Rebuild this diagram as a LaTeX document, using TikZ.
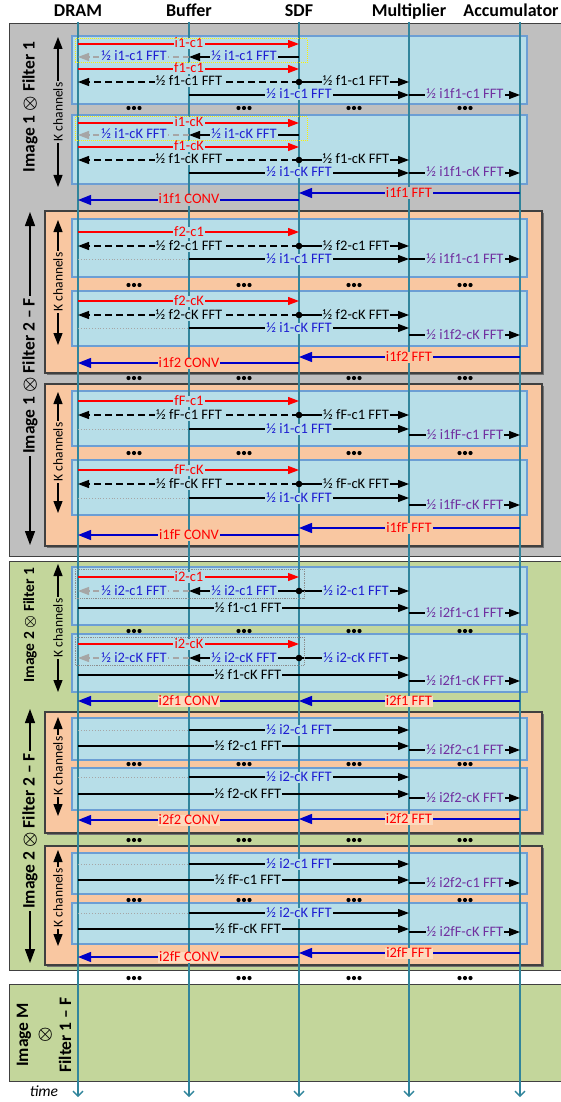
\documentclass[tikz,border=0pt]{standalone}
\usepackage{fontspec}
\setmainfont{Carlito}
\usetikzlibrary{arrows.meta}
\definecolor{grayfill}{RGB}{191,191,191}
\definecolor{greenfill}{RGB}{195,214,155}
\definecolor{orangefill}{RGB}{249,199,161}
\definecolor{peach}{RGB}{252,218,190}
\definecolor{chfill}{RGB}{183,222,232}
\definecolor{chdraw}{RGB}{108,158,212}
\definecolor{lifec}{RGB}{49,133,156}
\definecolor{fftblue}{RGB}{30,30,210}
\definecolor{arrblue}{RGB}{0,0,200}
\definecolor{purp}{RGB}{112,48,160}
\definecolor{garrow}{RGB}{166,166,166}
\definecolor{redc}{RGB}{255,0,0}
\definecolor{boxedge}{RGB}{64,64,64}
\newcounter{lbl}
\tikzset{
  tipA/.style={-{Triangle[length=11pt,width=8pt]}},
  rarr/.style={draw=redc, line width=1.2pt, tipA},
  barr/.style={draw=black, line width=1.2pt, tipA},
  garr/.style={draw=garrow, line width=1.2pt, dash pattern=on 6pt off 4pt, tipA},
  dsh/.style={draw=black, line width=1.2pt, dash pattern=on 7pt off 4pt, tipA},
  blarr/.style={draw=arrblue, line width=1.2pt, -{Triangle[length=13pt,width=10pt]}},
  gdot/.style={draw=black!35, line width=0.8pt, dotted},
  lab/.style={inner xsep=1.2pt, inner ysep=0pt, text height=9.5pt, text depth=1.5pt, font=\fontsize{14.5}{16}\selectfont},
  chbox/.style={fill=chfill, draw=chdraw, line width=1.2pt},
  outer/.style={draw=boxedge, line width=1pt},
  obox/.style={draw=boxedge, line width=1.2pt, fill=orangefill},
  oshadow/.style={fill=black!55, draw=none},
  lifeline/.style={draw=lifec, line width=1.3pt, -{Straight Barb[length=5pt,width=10pt]}},
  hdr/.style={font=\bfseries\fontsize{18}{20}\selectfont, anchor=base, inner sep=0pt},
  side/.style={rotate=90, font=\bfseries\fontsize{17.5}{20}\selectfont, inner sep=2pt},
  kch/.style={rotate=90, font=\fontsize{13.5}{15}\selectfont, inner sep=1.5pt},
  karr/.style={draw=black, line width=1.3pt, -{Triangle[length=12pt,width=9pt]}},
  bigarr/.style={draw=black, line width=1.3pt, -{Triangle[length=14pt,width=10pt]}},
  selbox/.style={draw=yellow, line width=1pt, densely dotted},
  selboxg/.style={draw=black!45, line width=0.8pt, densely dotted}
}
\newcommand\ox{\mbox{\boldmath$\otimes$}}
\newcommand\putlab[4][]{\stepcounter{lbl}\node[lab,#1] (L\arabic{lbl}) at (#2 |- 0,#3) {#4};}
\newcommand\rred[2]{\draw[rarr] (D |- 0,#1) -- (S |- 0,#1); \putlab[text=redc,fill=chfill]{B}{#1}{#2}}
\newcommand\rsplit[2]{\draw[barr] (S |- 0,#1) -- (B |- 0,#1); \draw[garr] (B |- 0,#1) -- (D |- 0,#1);
  \putlab[text=fftblue,fill=chfill]{DB}{#1}{#2}\putlab[text=fftblue,fill=chfill]{BS}{#1}{#2}}
\newcommand\rsplitb[2]{\rsplit{#1}{#2}\draw[barr] (S |- 0,#1) -- (M |- 0,#1); \fill (S |- 0,#1) circle (3.3pt);
  \putlab[text=fftblue,fill=chfill]{SM}{#1}{#2}}
\newcommand\rdash[3]{\draw[dsh] (S |- 0,#1) -- (D |- 0,#1); \draw[barr] (S |- 0,#1) -- (M |- 0,#1);
  \fill (S |- 0,#1) circle (3.3pt); \putlab[fill=chfill]{B}{#1}{#2}\putlab[fill=chfill]{SM}{#1}{#3}}
\newcommand\rbm[2]{\draw[barr] (B |- 0,#1) -- (M |- 0,#1); \putlab[text=fftblue,fill=chfill]{S}{#1}{#2}}
\newcommand\rma[2]{\draw[barr] (M |- 0,#1) -- (A |- 0,#1); \putlab[text=purp,fill=chfill]{MA}{#1}{#2}}
\newcommand\rdm[2]{\draw[barr] (D |- 0,#1) -- (M |- 0,#1); \putlab[fill=chfill]{BSb}{#1}{#2}}
\newcommand\rdot[1]{\draw[gdot] (D |- 0,#1) -- (B |- 0,#1);}
\newcommand\fftconv[5]{\draw[blarr] (A |- 0,#1) -- (S |- 0,#1); \draw[blarr] (S |- 0,#3) -- (D |- 0,#3);
  \putlab[text=redc,fill=#5]{M}{#1}{#2}\putlab[text=redc,fill=#5]{B}{#3}{#4}}
\newcommand\tridots[1]{\foreach \xx in {134,244,354,465}{\foreach \dd in {-5.5,0,5.5}{\fill (\xx+\dd,#1) circle (2.1pt);}}}
\newcommand\obx[4]{\fill[oshadow] (#1+2,#2+2) rectangle (#3+2,#4+2); \draw[obox] (#1,#2) rectangle (#3,#4);}
\begin{document}
\begin{tikzpicture}[x=1pt,y=-1pt]
\useasboundingbox (0,0) rectangle (560,1102);
% outer boxes
\draw[outer, fill=grayfill] (9,24) rectangle (575,556);
\draw[outer, fill=greenfill] (9,561) rectangle (575,970);
\draw[outer, fill=greenfill] (9,984) rectangle (575,1081);
% filter 2..F boxes
\obx{45}{211}{542}{373}
\obx{45}{384}{542}{546}
\obx{45}{712}{542}{833}
\obx{45}{846}{542}{965}
% channel boxes
\foreach \a/\b in {36/104,115/184,219/277,291/346,391/446,460/515,567/625,634/692,718/760,768/810,853/894,903/944}
  \draw[chbox] (72,\a) rectangle (527,\b);
% lifelines
\coordinate (D) at (78,22);
\coordinate (B) at (189,22);
\coordinate (S) at (299,22);
\coordinate (M) at (409,22);
\coordinate (A) at (520,22);
\coordinate (DB) at (134,22);
\coordinate (BS) at (244,22);
\coordinate (BSb) at (248,22);
\coordinate (SM) at (356,22);
\coordinate (MA) at (465,22);
\foreach \n in {D,B,S,M,A} \draw[lifeline] (\n) -- (\n |- 0,1097);
% headers
\node[hdr] (hD) at (78,17) {DRAM};
\node[hdr] (hB) at (189,17) {Buffer};
\node[hdr] (hS) at (299,17) {SDF};
\node[hdr] (hM) at (409,17) {Multiplier};
\node[hdr] (hA) at (511,17) {Accumulator};
% ===== Image 1, Filter 1
\rred{44}{i1-c1}
\rsplit{57}{½ i1-c1 FFT}
\rred{69}{f1-c1}
\rdash{82}{½ f1-c1 FFT}{½ f1-c1 FFT}
\rbm{95}{½ i1-c1 FFT}\rma{95}{½ i1f1-c1 FFT}
\tridots{108}
\rred{123}{i1-cK}
\rsplit{135}{½ i1-cK FFT}
\rred{147}{f1-cK}
\rdash{160}{½ f1-cK FFT}{½ f1-cK FFT}
\rbm{173}{½ i1-cK FFT}\rma{173}{½ i1f1-cK FFT}
\fftconv{193}{i1f1 FFT}{200}{i1f1 CONV}{grayfill}
\draw[selbox] (75,39) rectangle (307,63);
\draw[selbox] (75,117) rectangle (307,141);
% ===== Image 1, Filter 2
\rred{232}{f2-c1}
\rdash{246}{½ f2-c1 FFT}{½ f2-c1 FFT}
\rdot{259}\rbm{259}{½ i1-c1 FFT}\rma{259}{½ i1f1-c1 FFT}
\tridots{285}
\rred{301}{f2-cK}
\rdash{315}{½ f2-cK FFT}{½ f2-cK FFT}
\rdot{328}\rbm{328}{½ i1-cK FFT}\rma{335}{½ i1f2-cK FFT}
\fftconv{357}{i1f2 FFT}{363}{i1f2 CONV}{orangefill}
\tridots{378}
% ===== Image 1, Filter F
\rred{401}{fF-c1}
\rdash{415}{½ fF-c1 FFT}{½ fF-c1 FFT}
\rdot{429}\rbm{429}{½ i1-c1 FFT}\rma{435}{½ i1fF-c1 FFT}
\tridots{453}
\rred{470}{fF-cK}
\rdash{484}{½ fF-cK FFT}{½ fF-cK FFT}
\rdot{498}\rbm{498}{½ i1-cK FFT}\rma{505}{½ i1fF-cK FFT}
\fftconv{528}{i1fF FFT}{535}{i1fF CONV}{orangefill}
% ===== Image 2, Filter 1
\rred{577}{i2-c1}
\rsplitb{591}{½ i2-c1 FFT}
\rdm{608}{½ f1-c1 FFT}\rma{613}{½ i2f1-c1 FFT}
\draw[selboxg] (75,569) rectangle (304,598);
\tridots{631}
\rred{644}{i2-cK}
\rsplitb{658}{½ i2-cK FFT}
\rdm{675}{½ f1-cK FFT}\rma{681}{½ i2f1-cK FFT}
\draw[selboxg] (75,637) rectangle (304,665);
\fftconv{701}{i2f1 FFT}{701}{i2f1 CONV}{peach}
% ===== Image 2, Filter 2
\rdot{730}\rbm{730}{½ i2-c1 FFT}
\rdm{746}{½ f2-c1 FFT}\rma{750}{½ i2f2-c1 FFT}
\tridots{764}
\rdot{777}\rbm{777}{½ i2-cK FFT}
\rdm{794}{½ f2-cK FFT}\rma{798}{½ i2f2-cK FFT}
\fftconv{819}{i2f2 FFT}{820}{i2f2 CONV}{peach}
\tridots{840}
% ===== Image 2, Filter F
\rdot{864}\rbm{864}{½ i2-c1 FFT}
\rdm{880}{½ fF-c1 FFT}\rma{883}{½ i2f2-c1 FFT}
\tridots{900}
\rdot{913}\rbm{913}{½ i2-cK FFT}
\rdm{929}{½ fF-cK FFT}\rma{932}{½ i2fF-cK FFT}
\fftconv{953}{i2fF FFT}{957}{i2fF CONV}{peach}
\tridots{978}
% ===== side labels
\node[side] (s1) at (30,107) {Image 1 \ox\ Filter 1};
\node[side] (s2) at (30,376) {Image 1 \ox\ Filter 2 – F};
\draw[bigarr] (s2.east) -- (30,212);
\draw[bigarr] (s2.west) -- (30,545);
\node[side, font=\bfseries\fontsize{15.5}{18}\selectfont] (s3) at (30,625) {Image 2 \ox\ Filter 1};
\node[side] (s4) at (30,831) {Image 2 \ox\ Filter 2 – F};
\draw[bigarr] (s4.east) -- (30,709);
\draw[bigarr] (s4.west) -- (30,963);
\node[side, align=center, font=\bfseries\fontsize{17.5}{21.5}\selectfont] (s5) at (44,1035) {Image M\\\ox\\Filter 1 – F};
% K channels
\foreach \nm/\cy/\ta/\tb in {k1/112/37/187, k2/282/220/345, k3/452/392/513, k4/628/564/692, k5/766/717/816, k6/898/850/946}{
  \node[kch] (\nm) at (58,\cy) {K channels};
  \draw[karr] (\nm.east) -- (58,\ta);
  \draw[karr] (\nm.west) -- (58,\tb);
}
\node[font=\itshape\fontsize{15.5}{17}\selectfont] (tm) at (44,1091) {time};
\end{tikzpicture}
\end{document}
